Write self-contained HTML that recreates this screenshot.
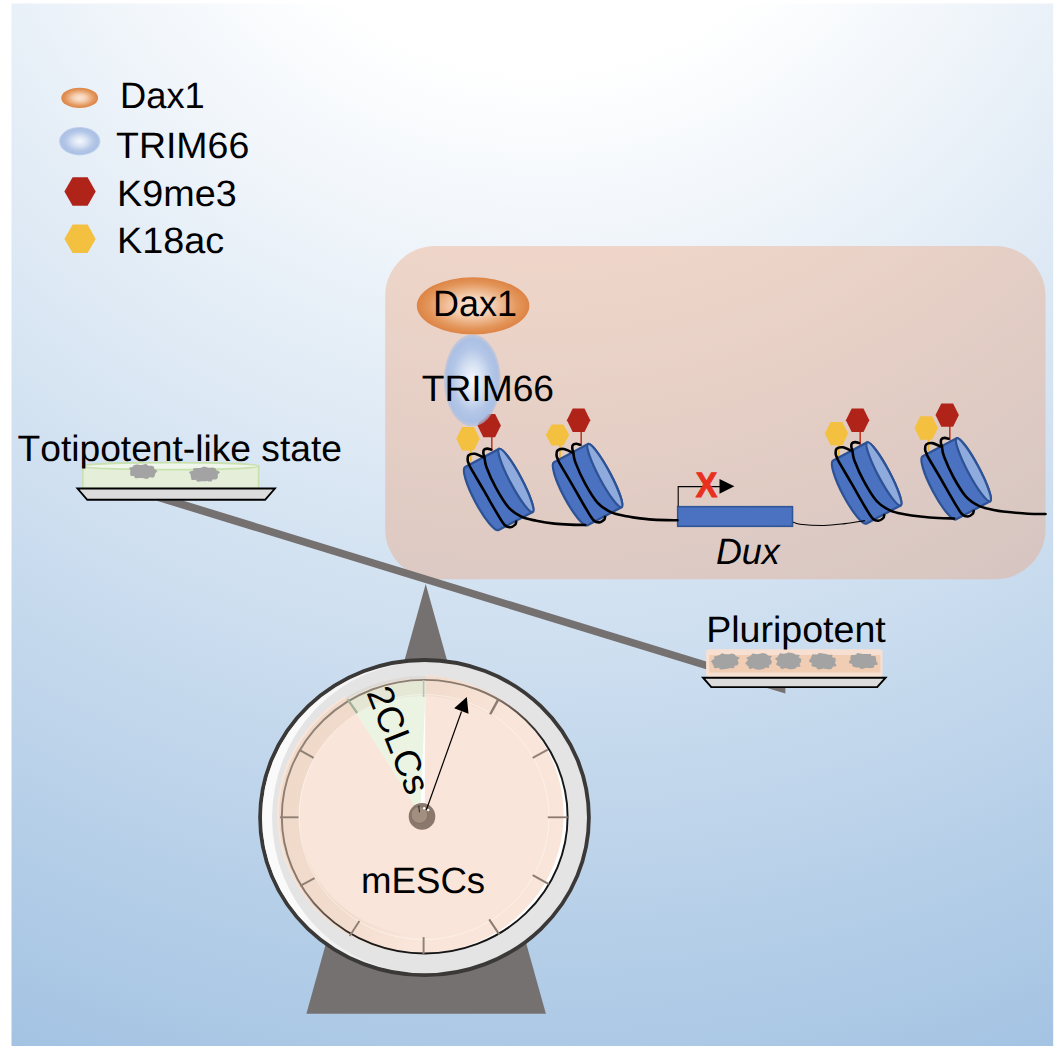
<!DOCTYPE html>
<html><head><meta charset="utf-8"><title>Graphical abstract</title>
<style>
html,body{margin:0;padding:0;background:#fff;overflow:hidden}
svg{display:block}
text{font-family:"Liberation Sans",sans-serif;fill:#000;font-kerning:none;text-rendering:geometricPrecision}
</style></head>
<body>
<svg width="1054" height="1046" viewBox="0 0 1054 1046">
<defs>
<radialGradient id="bg" gradientUnits="userSpaceOnUse" cx="540" cy="-250" r="1400">
<stop offset="0" stop-color="#ffffff"/>
<stop offset="0.229" stop-color="#ffffff"/>
<stop offset="0.986" stop-color="#a5c4e3"/>
<stop offset="1" stop-color="#a4c3e3"/>
</radialGradient>
<linearGradient id="box" gradientUnits="userSpaceOnUse" x1="385" y1="246" x2="1045" y2="579">
<stop offset="0" stop-color="#f0d7ca"/>
<stop offset="0.5" stop-color="#e2cdc6"/>
<stop offset="1" stop-color="#d7c2c2"/>
</linearGradient>
<radialGradient id="dax" cx="0.5" cy="0.5" r="0.5">
<stop offset="0" stop-color="#fbe6d6"/>
<stop offset="0.35" stop-color="#f5cfb2"/>
<stop offset="0.8" stop-color="#e39559"/>
<stop offset="1" stop-color="#dd8445"/>
</radialGradient>
<radialGradient id="trim" cx="0.5" cy="0.5" r="0.5">
<stop offset="0" stop-color="#f7f9fd"/>
<stop offset="0.3" stop-color="#dde6f5"/>
<stop offset="0.7" stop-color="#b3c6e7"/>
<stop offset="0.9" stop-color="#abc0e4"/>
<stop offset="1" stop-color="#abc0e4" stop-opacity="0.55"/>
</radialGradient>
<linearGradient id="rimline" gradientUnits="userSpaceOnUse" x1="300" y1="700" x2="550" y2="940">
<stop offset="0" stop-color="#94857a"/>
<stop offset="0.4" stop-color="#857469"/>
<stop offset="0.6" stop-color="#1a1a1a"/>
<stop offset="1" stop-color="#111"/>
</linearGradient>
<linearGradient id="bevel" gradientUnits="userSpaceOnUse" x1="295" y1="763" x2="553" y2="871">
<stop offset="0" stop-color="#b38b61" stop-opacity="0.13"/>
<stop offset="0.38" stop-color="#b38b61" stop-opacity="0.10"/>
<stop offset="0.62" stop-color="#b38b61" stop-opacity="0"/>
</linearGradient>
<linearGradient id="hl" gradientUnits="userSpaceOnUse" x1="424" y1="662" x2="424" y2="973">
<stop offset="0" stop-color="#fbfafa" stop-opacity="0.6"/>
<stop offset="0.15" stop-color="#fbfafa" stop-opacity="1"/>
<stop offset="0.8" stop-color="#fbfafa" stop-opacity="1"/>
<stop offset="1" stop-color="#fbfafa" stop-opacity="0.3"/>
</linearGradient>
</defs>

<rect x="11.5" y="3.5" width="1041.7" height="1043" fill="url(#bg)"/>
<ellipse cx="79.7" cy="97.9" rx="18.4" ry="10.2" fill="url(#dax)"/>
<ellipse cx="79.7" cy="141.2" rx="20.7" ry="14.2" fill="url(#trim)"/>
<polygon points="64.4,191.5 72.6,177.2 87.6,177.2 95.7,191.5 87.6,205.7 72.6,205.7" fill="#b02318"/>
<polygon points="64.4,238.9 72.6,224.6 87.6,224.6 95.7,238.9 87.6,253.1 72.6,253.1" fill="#f4c040"/>
<text id="t_dax_l" transform="translate(120.03,108.00) scale(0.9896,1)" font-size="36.7">Dax1</text>
<text id="t_trim_l" transform="translate(116.00,158.20) scale(1.0212,1)" font-size="36.7">TRIM66</text>
<text id="t_k9" transform="translate(117.12,206.00) scale(1.0283,1)" font-size="36.7">K9me3</text>
<text id="t_k18" transform="translate(117.11,253.20) scale(1.0290,1)" font-size="36.7">K18ac</text>
<rect x="385.2" y="246" width="660.3" height="333.2" rx="50" ry="50" fill="#ed9d72" fill-opacity="0.36"/>
<polygon points="425.7,583.9 306.4,1013.8 545.9,1013.8" fill="#767171"/>
<polygon points="155.9,500.5 182.7,500.5 785.4,685.8 785.4,693.6" fill="#767171"/>
<path d="M82.9,488.5 L82.9,466.2 A87.85,3.5 0 0 1 258.6,466.2 L258.6,488.5 Z" fill="#e4eed8" stroke="#c8e1ad" stroke-width="1.6"/>
<ellipse cx="170.75" cy="466.2" rx="87.85" ry="3.5" fill="#f1f6ec" stroke="#c8e1ad" stroke-width="1.7"/>
<path d="M157.3,471.5 C157.0,471.8 155.7,472.8 155.4,473.3 C155.0,473.8 155.2,474.2 155.0,474.7 C154.9,475.1 154.8,475.5 154.6,475.9 C154.5,476.3 154.3,476.8 153.9,477.1 C153.5,477.4 152.9,477.7 152.1,477.7 C151.4,477.7 150.0,477.2 149.3,477.3 C148.7,477.5 148.8,478.3 148.3,478.5 C147.7,478.8 147.0,479.1 146.1,479.0 C145.2,478.9 143.9,478.3 142.9,478.1 C141.9,478.0 140.9,478.1 140.1,478.1 C139.3,478.0 138.8,477.9 138.0,477.9 C137.3,477.9 136.2,478.3 135.5,478.2 C134.9,478.1 134.6,477.6 134.4,477.2 C134.2,476.8 134.6,476.2 134.1,476.0 C133.6,475.7 131.9,476.1 131.3,475.9 C130.6,475.7 130.4,475.2 130.2,474.8 C130.1,474.4 130.3,473.9 130.3,473.3 C130.3,472.8 130.3,472.1 130.3,471.5 C130.3,470.9 130.4,470.2 130.2,469.7 C130.0,469.1 128.9,468.3 129.1,467.9 C129.3,467.5 130.7,467.4 131.4,467.2 C132.1,466.9 132.9,466.9 133.3,466.6 C133.6,466.3 133.1,465.5 133.5,465.2 C133.9,464.9 134.8,464.9 135.5,464.8 C136.2,464.7 136.9,464.6 137.6,464.6 C138.4,464.6 139.2,465.0 140.1,465.0 C141.0,465.0 141.9,464.9 142.9,464.7 C143.9,464.5 145.3,463.8 146.1,463.9 C146.9,464.0 147.1,464.9 147.7,465.2 C148.2,465.6 148.6,465.7 149.3,465.7 C149.9,465.8 150.9,465.6 151.6,465.7 C152.2,465.8 152.6,466.1 153.1,466.3 C153.6,466.6 154.2,466.8 154.3,467.2 C154.5,467.6 153.7,468.2 153.9,468.6 C154.2,469.0 155.2,469.2 155.7,469.6 C156.3,470.1 157.0,471.2 157.3,471.5 Z" fill="#a3a3a3"/>
<path d="M217.9,474.3 C217.8,474.6 217.8,475.6 217.8,476.2 C217.8,476.7 217.9,477.2 217.8,477.6 C217.6,478.1 217.4,478.5 217.0,478.8 C216.6,479.2 216.1,479.5 215.4,479.6 C214.6,479.7 213.1,479.3 212.6,479.5 C212.0,479.7 212.4,480.5 212.0,480.9 C211.6,481.2 211.0,481.6 210.2,481.6 C209.5,481.6 208.3,481.0 207.4,480.9 C206.4,480.8 205.4,481.1 204.4,481.2 C203.4,481.3 202.2,481.2 201.2,481.3 C200.3,481.4 199.2,481.8 198.4,481.8 C197.7,481.7 197.1,481.3 196.6,481.0 C196.2,480.7 196.5,480.0 195.8,479.8 C195.1,479.6 193.3,480.2 192.5,480.0 C191.8,479.9 191.4,479.5 191.2,479.0 C190.9,478.6 191.3,478.0 191.2,477.6 C191.1,477.1 190.8,476.7 190.7,476.2 C190.6,475.7 190.7,475.0 190.5,474.3 C190.2,473.6 189.1,472.7 189.2,472.2 C189.4,471.7 190.8,471.4 191.5,471.1 C192.2,470.8 193.1,470.7 193.4,470.4 C193.7,470.0 192.8,469.2 193.0,468.8 C193.3,468.5 194.3,468.4 194.9,468.3 C195.6,468.1 196.3,468.0 197.0,468.0 C197.8,467.9 198.6,468.1 199.3,468.0 C200.0,467.9 200.5,467.7 201.3,467.4 C202.2,467.2 203.4,466.4 204.4,466.4 C205.4,466.4 206.6,467.3 207.4,467.5 C208.3,467.8 208.8,467.8 209.6,467.8 C210.4,467.8 211.7,467.3 212.4,467.4 C213.2,467.4 213.7,467.7 214.3,468.0 C214.9,468.2 215.6,468.4 215.9,468.8 C216.2,469.1 215.6,469.8 216.0,470.1 C216.4,470.5 217.4,470.6 218.1,470.9 C218.7,471.3 219.9,471.6 219.9,472.2 C219.8,472.7 218.2,473.9 217.9,474.3 Z" fill="#a3a3a3"/>
<polygon points="77.5,488.5 274.9,488.5 265.1,499.8 87.3,499.8" fill="#dcdcdc" stroke="#000" stroke-width="1.9" stroke-linejoin="miter"/>
<text id="t_toti" transform="translate(17.50,461.00) scale(1.0133,1)" font-size="36.7">Totipotent-like state</text>
<rect x="706.1" y="649.3" width="176.4" height="28.2" rx="3" fill="#f7e0d1"/>
<rect x="709.2" y="655" width="171.2" height="17.6" fill="#f1cdb3"/>
<path d="M738.1,661.4 C738.2,661.7 738.6,662.8 738.6,663.3 C738.5,663.8 738.2,664.3 737.9,664.6 C737.6,665.0 737.3,665.4 736.7,665.6 C736.1,665.8 734.8,665.6 734.4,665.9 C734.0,666.2 734.6,667.0 734.4,667.4 C734.2,667.8 733.8,668.3 733.2,668.3 C732.5,668.4 731.2,667.8 730.4,667.9 C729.6,667.9 729.3,668.3 728.5,668.5 C727.7,668.7 726.6,668.8 725.5,669.0 C724.4,669.1 723.0,669.5 722.1,669.5 C721.1,669.4 720.4,669.2 719.8,668.9 C719.2,668.6 719.2,667.9 718.5,667.8 C717.7,667.7 716.1,668.3 715.3,668.3 C714.5,668.2 714.1,667.8 713.8,667.3 C713.5,666.9 713.9,666.3 713.8,665.8 C713.6,665.4 713.2,665.1 712.9,664.7 C712.7,664.3 712.7,663.8 712.5,663.3 C712.2,662.8 711.1,662.0 711.2,661.4 C711.4,660.8 712.5,660.1 713.1,659.6 C713.7,659.1 714.6,659.0 714.7,658.6 C714.8,658.1 713.6,657.3 713.7,657.0 C713.8,656.6 714.7,656.4 715.3,656.2 C715.8,656.0 716.5,655.9 717.1,655.7 C717.7,655.6 718.3,655.5 718.8,655.3 C719.3,655.1 719.7,654.9 720.3,654.6 C720.8,654.2 721.2,653.4 722.1,653.3 C722.9,653.3 724.4,654.1 725.5,654.2 C726.6,654.4 727.5,654.4 728.5,654.3 C729.5,654.2 730.7,653.6 731.5,653.5 C732.3,653.5 732.9,653.9 733.5,654.1 C734.1,654.4 734.8,654.5 735.2,654.9 C735.6,655.2 735.4,655.8 735.8,656.1 C736.3,656.5 737.2,656.5 737.8,656.7 C738.5,657.0 739.7,657.2 739.7,657.7 C739.7,658.2 738.1,659.0 737.9,659.6 C737.6,660.2 738.0,661.1 738.1,661.4 Z" fill="#a3a3a3"/>
<path d="M771.9,661.4 C771.8,661.7 771.6,662.7 771.4,663.2 C771.2,663.7 771.0,664.1 770.6,664.4 C770.2,664.8 769.0,664.7 768.8,665.1 C768.6,665.5 769.4,666.2 769.3,666.7 C769.3,667.2 769.1,667.7 768.5,667.9 C767.9,668.0 766.4,667.5 765.7,667.6 C765.0,667.7 764.9,668.3 764.3,668.5 C763.7,668.8 763.2,669.0 762.3,669.2 C761.3,669.5 760.0,669.7 758.9,669.7 C757.8,669.7 756.4,669.5 755.5,669.3 C754.6,669.1 754.4,668.4 753.6,668.3 C752.8,668.3 751.3,669.0 750.5,669.0 C749.7,669.0 749.1,668.6 748.8,668.2 C748.5,667.8 748.9,667.0 748.7,666.6 C748.4,666.2 747.8,666.1 747.4,665.7 C747.1,665.4 747.0,665.0 746.7,664.6 C746.3,664.2 745.4,663.9 745.4,663.4 C745.4,662.8 746.4,662.0 746.8,661.4 C747.2,660.8 748.0,660.4 748.0,659.8 C747.9,659.3 746.4,658.6 746.4,658.1 C746.3,657.7 747.1,657.4 747.6,657.1 C748.1,656.9 748.7,656.7 749.2,656.5 C749.7,656.2 750.0,656.0 750.4,655.7 C750.8,655.4 751.1,655.1 751.5,654.7 C751.9,654.3 752.1,653.5 752.8,653.4 C753.5,653.3 754.8,654.0 755.8,654.1 C756.8,654.2 757.8,654.2 758.9,654.0 C760.0,653.8 761.5,653.0 762.5,653.0 C763.5,652.9 764.1,653.4 764.9,653.6 C765.6,653.8 766.3,654.0 766.8,654.3 C767.2,654.6 767.3,655.1 767.9,655.4 C768.4,655.6 769.2,655.6 769.9,655.8 C770.5,656.0 771.7,656.1 771.8,656.6 C771.8,657.0 770.4,657.9 770.3,658.4 C770.1,659.0 770.6,659.2 770.8,659.7 C771.1,660.2 771.7,661.1 771.9,661.4 Z" fill="#a3a3a3"/>
<path d="M801.0,661.0 C801.0,661.3 800.9,662.3 800.7,662.8 C800.4,663.3 799.5,663.4 799.5,663.9 C799.4,664.3 800.3,665.0 800.4,665.5 C800.5,666.0 800.5,666.6 799.9,666.8 C799.4,667.0 797.8,666.6 797.1,666.8 C796.5,667.0 796.6,667.6 796.1,667.9 C795.7,668.3 795.2,668.6 794.5,668.8 C793.8,669.1 793.0,669.2 792.0,669.3 C791.0,669.3 789.6,669.2 788.5,669.0 C787.4,668.8 786.5,668.2 785.4,668.2 C784.4,668.2 783.3,668.9 782.4,669.0 C781.6,669.0 780.9,668.6 780.5,668.3 C780.1,667.9 780.4,667.0 780.1,666.7 C779.7,666.3 778.9,666.4 778.4,666.1 C778.0,665.9 777.7,665.5 777.3,665.2 C776.9,664.9 776.1,664.7 776.0,664.3 C775.9,663.8 776.5,663.3 776.8,662.7 C777.0,662.2 777.7,661.6 777.4,661.0 C777.2,660.4 775.4,659.6 775.2,659.1 C775.0,658.5 775.8,658.1 776.2,657.8 C776.6,657.4 777.2,657.2 777.6,656.9 C777.9,656.5 778.0,656.2 778.2,655.8 C778.5,655.4 778.8,655.1 779.1,654.7 C779.4,654.3 779.4,653.5 780.0,653.3 C780.7,653.2 782.1,653.7 783.0,653.8 C783.9,653.8 784.4,653.8 785.3,653.6 C786.2,653.3 787.4,652.5 788.5,652.4 C789.6,652.3 791.0,652.8 791.9,653.0 C792.8,653.2 793.5,653.4 794.1,653.7 C794.7,653.9 795.1,654.3 795.7,654.5 C796.3,654.7 797.0,654.7 797.7,654.8 C798.4,654.9 799.6,654.9 799.7,655.3 C799.9,655.7 798.7,656.7 798.7,657.2 C798.7,657.6 799.2,657.8 799.7,658.1 C800.1,658.4 801.1,658.6 801.3,659.1 C801.5,659.6 801.1,660.7 801.0,661.0 Z" fill="#a3a3a3"/>
<path d="M835.6,661.4 C835.5,661.7 834.9,662.6 835.0,663.1 C835.1,663.7 836.0,664.3 836.2,664.8 C836.4,665.4 836.5,666.0 836.0,666.3 C835.5,666.6 833.7,666.3 833.1,666.5 C832.6,666.8 832.8,667.4 832.5,667.8 C832.2,668.2 831.8,668.6 831.2,668.9 C830.6,669.1 829.8,669.2 829.0,669.2 C828.1,669.3 827.3,669.2 826.3,669.1 C825.3,669.0 824.1,668.4 823.0,668.5 C821.9,668.5 820.5,669.3 819.6,669.4 C818.6,669.5 817.8,669.2 817.3,668.9 C816.8,668.5 816.9,667.6 816.4,667.4 C816.0,667.1 815.0,667.3 814.5,667.1 C813.9,667.0 813.4,666.7 812.9,666.5 C812.4,666.3 811.6,666.1 811.4,665.8 C811.2,665.4 811.6,664.8 811.6,664.4 C811.7,663.9 812.2,663.5 811.7,663.0 C811.3,662.5 809.4,662.0 809.1,661.4 C808.8,660.8 809.4,660.0 809.7,659.5 C810.0,658.9 810.8,658.7 811.0,658.3 C811.3,657.9 811.0,657.4 811.2,656.9 C811.3,656.5 811.6,656.2 811.8,655.7 C812.1,655.3 812.0,654.6 812.6,654.4 C813.2,654.2 814.7,654.6 815.5,654.6 C816.4,654.6 817.0,654.6 817.6,654.3 C818.2,654.0 818.5,653.1 819.4,653.0 C820.3,652.9 821.9,653.4 823.0,653.6 C824.1,653.8 825.2,654.0 826.1,654.1 C827.0,654.3 827.4,654.6 828.1,654.7 C828.8,654.8 829.6,654.7 830.3,654.8 C831.0,654.8 832.2,654.7 832.5,655.0 C832.7,655.4 831.9,656.4 832.0,656.8 C832.2,657.2 832.8,657.3 833.4,657.5 C834.0,657.7 835.2,657.8 835.6,658.1 C836.0,658.5 835.5,659.0 835.5,659.6 C835.6,660.1 835.6,661.1 835.6,661.4 Z" fill="#a3a3a3"/>
<path d="M876.1,661.0 C876.3,661.3 877.2,662.4 877.4,663.1 C877.6,663.7 877.8,664.3 877.4,664.7 C876.9,665.0 875.0,664.9 874.5,665.2 C873.9,665.5 874.4,666.1 874.2,666.5 C874.0,666.9 873.8,667.4 873.3,667.7 C872.7,668.0 871.8,668.0 871.1,668.0 C870.3,668.1 869.5,668.2 868.7,668.1 C867.9,668.1 867.1,667.6 866.2,667.8 C865.3,667.9 864.3,668.7 863.3,668.8 C862.3,669.0 860.9,668.8 860.1,668.5 C859.3,668.2 859.2,667.4 858.6,667.2 C858.0,667.0 857.0,667.4 856.3,667.4 C855.6,667.3 855.0,667.2 854.4,667.0 C853.8,666.8 853.1,666.7 852.7,666.4 C852.4,666.1 852.4,665.5 852.3,665.1 C852.2,664.7 852.5,664.3 851.9,664.0 C851.4,663.6 849.4,663.6 849.0,663.1 C848.6,662.6 849.2,661.7 849.4,661.0 C849.7,660.3 850.5,659.7 850.6,659.2 C850.8,658.6 850.3,658.1 850.3,657.6 C850.4,657.1 850.7,656.7 850.9,656.3 C851.1,655.9 850.9,655.2 851.5,655.0 C852.1,654.8 853.6,655.1 854.3,655.0 C855.1,654.9 855.7,654.9 856.2,654.6 C856.7,654.2 856.6,653.3 857.3,653.1 C857.9,652.9 859.1,653.4 860.1,653.6 C861.1,653.7 862.3,653.9 863.3,654.0 C864.3,654.1 865.4,654.1 866.2,654.1 C867.1,654.1 867.8,654.1 868.6,654.0 C869.4,654.0 870.5,653.8 870.9,654.1 C871.4,654.3 870.9,655.3 871.2,655.7 C871.5,656.0 872.2,656.0 873.0,656.1 C873.7,656.2 875.1,656.1 875.6,656.4 C876.0,656.7 875.6,657.3 875.7,657.8 C875.8,658.2 876.1,658.6 876.2,659.1 C876.2,659.7 876.1,660.7 876.1,661.0 Z" fill="#a3a3a3"/>
<polygon points="703,677.7 885.6,677.7 877.2,687.1 711.3,687.1" fill="#dcdcdc" stroke="#000" stroke-width="1.9"/>
<text id="t_pluri" transform="translate(706.13,642.20) scale(1.0244,1)" font-size="36.7">Pluripotent</text>
<ellipse cx="424.5" cy="817.6" rx="164.4" ry="157.6" fill="#e4e4e4" stroke="#3b3838" stroke-width="3.8"/>
<path d="M424.5,662.2 A162.4,155.4 0 0 0 424.5,973 A152.4,155.4 0 0 1 424.5,662.2 Z" fill="url(#hl)"/>
<ellipse cx="424.7" cy="816.7" rx="142.9" ry="136.8" fill="#ffffff"/>
<path d="M422,816.4 L425.9,675.6 A143.2,139 0 1 1 345.5,696.0 Z" fill="#f9e5d9"/>
<path d="M422,816.4 L347.2,698.7 A143,137 0 0 1 425.9,680 Z" fill="#ebf3e3"/>
<polygon points="425.3,695 420.6,804 424.9,804" fill="#ffffff" opacity="0.9"/>
<ellipse cx="422.5" cy="815.5" rx="133.5" ry="129.5" fill="none" stroke="url(#bevel)" stroke-width="20"/>
<ellipse cx="424" cy="817" rx="125" ry="122.5" fill="none" stroke="#ffffff" stroke-opacity="0.45" stroke-width="1"/>
<ellipse cx="424.7" cy="816.7" rx="142.9" ry="136.8" fill="none" stroke="url(#rimline)" stroke-width="1.9"/>
<line x1="423.6" y1="680.1" x2="423.6" y2="696.9" stroke="#b9c2b0" stroke-width="1.6"/>
<line x1="498.2" y1="699.6" x2="490.2" y2="714.3" stroke="#8c7b70" stroke-width="2.4"/>
<line x1="547.8" y1="749.7" x2="532.7" y2="757.8" stroke="#8f7f74" stroke-width="1.9"/>
<line x1="547.8" y1="817.3" x2="567.8" y2="817.3" stroke="#8c7b70" stroke-width="1.8"/>
<line x1="548.8" y1="884.2" x2="532.7" y2="875.2" stroke="#8c7b70" stroke-width="2.0"/>
<line x1="499.2" y1="934.4" x2="489.2" y2="919.4" stroke="#8c7b70" stroke-width="2.0"/>
<line x1="423.6" y1="937.1" x2="423.6" y2="954.5" stroke="#8f7f74" stroke-width="1.9"/>
<line x1="349.7" y1="936.1" x2="359.4" y2="921.0" stroke="#8f7f74" stroke-width="1.9"/>
<line x1="300.2" y1="885.9" x2="314.6" y2="878.2" stroke="#8f7f74" stroke-width="1.9"/>
<line x1="280.1" y1="817.3" x2="298.5" y2="817.3" stroke="#8f7f74" stroke-width="1.9"/>
<line x1="300.2" y1="750.4" x2="313.6" y2="757.8" stroke="#8f7f74" stroke-width="1.9"/>
<line x1="347.4" y1="699.2" x2="357.2" y2="713.0" stroke="#a0b09b" stroke-width="2.3"/>
<circle cx="422" cy="816.4" r="13.3" fill="#8b786c"/>
<circle cx="419.4" cy="815" r="8.4" fill="#a28f80" stroke="#7d6c61" stroke-width="0.8"/>
<line x1="426.4" y1="809.7" x2="461.5" y2="711.5" stroke="#000" stroke-width="1.2"/>
<polygon points="466.8,697 454.2,708.2 468.5,713.7" fill="#000"/>
<line x1="418.7" y1="805.6" x2="419.5" y2="812.2" stroke="#2a2a2a" stroke-width="1.1"/>
<circle cx="424.2" cy="808.2" r="1.2" fill="#fff"/><circle cx="428.2" cy="810" r="1.2" fill="#fff"/>
<text id="t_mesc" transform="translate(361.10,892.90) scale(0.9976,1)" font-size="36.7">mESCs</text>
<text id="t_2c" transform="translate(366.2,692.6) rotate(68.3)" x="0" y="0" font-size="36.7">2CLCs</text>
<line x1="470.8" y1="447.8" x2="470.8" y2="461.4" stroke="#eeb730" stroke-width="1.7"/>
<line x1="491.8" y1="436.6" x2="491.8" y2="450.9" stroke="#c0392b" stroke-width="1.6"/>
<polygon points="456.3,438.8 462.1,427.1 473.9,427.1 479.7,438.8 473.9,450.5 462.1,450.5" fill="#f4c040"/>
<polygon points="477.5,425.6 483.3,413.9 495.1,413.9 500.9,425.6 495.1,437.3 483.3,437.3" fill="#b02318"/>
<line x1="560.0" y1="443.9" x2="560.0" y2="458.8" stroke="#eeb730" stroke-width="1.7"/>
<line x1="581.2" y1="431.3" x2="581.2" y2="445.9" stroke="#c0392b" stroke-width="1.6"/>
<polygon points="545.8,434.9 551.6,424.4 563.4,424.4 569.2,434.9 563.4,445.4 551.6,445.4" fill="#f4c040"/>
<polygon points="566.9,420.3 572.7,408.6 584.5,408.6 590.3,420.3 584.5,432.0 572.7,432.0" fill="#b02318"/>
<line x1="838.8" y1="442.6" x2="838.8" y2="455.9" stroke="#eeb730" stroke-width="1.7"/>
<line x1="860.2" y1="431.2" x2="860.2" y2="445.2" stroke="#c0392b" stroke-width="1.6"/>
<polygon points="824.8,433.6 830.6,421.9 842.4,421.9 848.2,433.6 842.4,445.3 830.6,445.3" fill="#f4c040"/>
<polygon points="845.9,420.2 851.7,408.5 863.5,408.5 869.3,420.2 863.5,431.9 851.7,431.9" fill="#b02318"/>
<line x1="928.6" y1="437.0" x2="928.6" y2="451.0" stroke="#eeb730" stroke-width="1.7"/>
<line x1="949.8" y1="426.1" x2="949.8" y2="440.6" stroke="#c0392b" stroke-width="1.6"/>
<polygon points="914.5,428.0 920.3,416.3 932.1,416.3 937.9,428.0 932.1,439.7 920.3,439.7" fill="#f4c040"/>
<polygon points="935.5,415.1 941.3,403.4 953.1,403.4 958.9,415.1 953.1,426.8 941.3,426.8" fill="#b02318"/>
<g transform="translate(515.9,480.4) rotate(62)">
<path d="M-35.7,0 L-35.7,38.5 A35.7,7.4 0 0 0 35.7,38.5 L35.7,0 A35.7,5.8 0 0 0 -35.7,0 Z" fill="#4b72c1" stroke="#2e5395" stroke-width="2.3" stroke-linejoin="round"/>
<ellipse cx="0" cy="0" rx="35.7" ry="5.8" fill="#8faadc" stroke="#2e5395" stroke-width="2.3"/>
</g>
<g transform="translate(604.8,475.6) rotate(62)">
<path d="M-35.7,0 L-35.7,38.5 A35.7,7.4 0 0 0 35.7,38.5 L35.7,0 A35.7,5.8 0 0 0 -35.7,0 Z" fill="#4b72c1" stroke="#2e5395" stroke-width="2.3" stroke-linejoin="round"/>
<ellipse cx="0" cy="0" rx="35.7" ry="5.8" fill="#8faadc" stroke="#2e5395" stroke-width="2.3"/>
</g>
<g transform="translate(883.9,473.9) rotate(62)">
<path d="M-35.7,0 L-35.7,38.5 A35.7,7.4 0 0 0 35.7,38.5 L35.7,0 A35.7,5.8 0 0 0 -35.7,0 Z" fill="#4b72c1" stroke="#2e5395" stroke-width="2.3" stroke-linejoin="round"/>
<ellipse cx="0" cy="0" rx="35.7" ry="5.8" fill="#8faadc" stroke="#2e5395" stroke-width="2.3"/>
</g>
<g transform="translate(973.4,469.7) rotate(62)">
<path d="M-35.7,0 L-35.7,38.5 A35.7,7.4 0 0 0 35.7,38.5 L35.7,0 A35.7,5.8 0 0 0 -35.7,0 Z" fill="#4b72c1" stroke="#2e5395" stroke-width="2.3" stroke-linejoin="round"/>
<ellipse cx="0" cy="0" rx="35.7" ry="5.8" fill="#8faadc" stroke="#2e5395" stroke-width="2.3"/>
</g>
<rect x="677.7" y="506.7" width="114.8" height="19.6" fill="#4b72c1" stroke="#2f5597" stroke-width="1.6"/>
<path d="M678.2,506.3 L678.2,486.6 L720,486.6" fill="none" stroke="#000" stroke-width="1.1"/>
<polygon points="719.5,479 734.4,486.3 719.5,493.7" fill="#000"/>
<text id="t_x" transform="translate(695.70,496.90) scale(0.9125,1)" font-size="35.4" font-weight="bold" style="fill:#e8301f;stroke:#e8301f;stroke-width:1px">X</text>
<text id="t_dux" transform="translate(715.92,563.80) scale(0.9788,1)" font-size="36.7" font-style="italic">Dux</text>
<path d="M483.0,457.1 C481.6,456.6 477.3,454.1 474.9,453.8 C472.5,453.5 469.8,454.2 468.6,455.3 C467.4,456.4 467.6,459.0 467.7,460.5 C467.8,462.0 468.6,463.0 469.1,464.3 C469.6,465.6 468.4,463.9 470.8,468.2 C473.2,472.5 479.2,482.4 483.7,490.2 C488.2,498.0 494.5,509.2 498.0,515.0 C501.5,520.8 502.6,523.0 504.7,525.0 C506.8,527.0 508.6,527.3 510.4,527.2 C512.1,527.1 514.2,525.5 515.2,524.6 C516.2,523.7 516.0,522.2 516.2,521.7" fill="none" stroke="#000" stroke-width="2.6" stroke-linecap="round" stroke-linejoin="round"/>
<path d="M491.1,449.5 C490.5,449.4 488.5,448.5 487.3,448.6 C486.1,448.7 484.5,449.1 483.9,449.9 C483.2,450.7 483.3,452.3 483.4,453.5 C483.5,454.7 483.9,454.8 484.4,457.1 C484.9,459.4 484.6,462.0 486.5,467.2 C488.4,472.4 492.4,481.5 496.1,488.2 C499.8,494.9 504.2,502.6 508.5,507.4 C512.8,512.2 517.3,514.7 521.9,516.9 C526.5,519.1 530.9,519.6 536.3,520.7 C541.7,521.8 548.8,523.0 554.4,523.6 C560.0,524.2 564.9,524.4 570.0,524.6 C575.1,524.8 582.7,524.9 585.2,525.0" fill="none" stroke="#000" stroke-width="2.6" stroke-linecap="round" stroke-linejoin="round"/>
<path d="M571.9,452.3 C570.5,451.8 566.2,449.3 563.8,449.0 C561.4,448.7 558.7,449.4 557.5,450.5 C556.3,451.6 556.5,454.2 556.6,455.7 C556.7,457.2 557.5,458.2 558.0,459.5 C558.5,460.8 557.3,459.1 559.7,463.4 C562.1,467.7 568.1,477.6 572.6,485.4 C577.1,493.2 583.4,504.4 586.9,510.2 C590.4,516.0 591.5,518.2 593.6,520.2 C595.7,522.2 597.5,522.5 599.3,522.4 C601.0,522.3 603.1,520.7 604.1,519.8 C605.1,518.9 604.9,517.4 605.1,516.9" fill="none" stroke="#000" stroke-width="2.6" stroke-linecap="round" stroke-linejoin="round"/>
<path d="M580.0,444.7 C579.4,444.6 577.4,443.7 576.2,443.8 C575.0,443.9 573.4,444.3 572.8,445.1 C572.1,445.9 572.2,447.5 572.3,448.7 C572.4,449.9 572.8,450.0 573.3,452.3 C573.8,454.6 573.4,457.2 575.4,462.4 C577.4,467.6 581.3,476.7 585.0,483.4 C588.7,490.1 593.1,497.8 597.4,502.6 C601.7,507.4 606.2,509.9 610.8,512.1 C615.4,514.3 621.5,515.0 625.2,515.9 C628.9,516.8 628.4,516.8 633.0,517.4 C637.6,518.0 645.5,519.1 652.9,519.6 C660.3,520.1 673.4,520.2 677.5,520.3" fill="none" stroke="#000" stroke-width="2.6" stroke-linecap="round" stroke-linejoin="round"/>
<path d="M851.0,450.6 C849.6,450.1 845.3,447.6 842.9,447.3 C840.5,447.0 837.8,447.7 836.6,448.8 C835.4,449.9 835.6,452.5 835.7,454.0 C835.8,455.5 836.6,456.5 837.1,457.8 C837.6,459.1 836.4,457.4 838.8,461.7 C841.2,466.0 847.2,475.9 851.7,483.7 C856.2,491.5 862.5,502.7 866.0,508.5 C869.5,514.3 870.6,516.5 872.7,518.5 C874.8,520.5 876.6,520.8 878.4,520.7 C880.1,520.6 882.2,519.0 883.2,518.1 C884.2,517.2 884.0,515.7 884.2,515.2" fill="none" stroke="#000" stroke-width="2.6" stroke-linecap="round" stroke-linejoin="round"/>
<path d="M859.1,443.0 C858.5,442.9 856.5,442.0 855.3,442.1 C854.1,442.2 852.5,442.6 851.9,443.4 C851.2,444.2 851.3,445.8 851.4,447.0 C851.5,448.2 851.9,448.3 852.4,450.6 C852.9,452.9 852.5,455.5 854.5,460.7 C856.5,465.9 860.4,475.0 864.1,481.7 C867.8,488.4 872.2,496.1 876.5,500.9 C880.8,505.7 885.3,508.2 889.9,510.4 C894.5,512.6 899.2,513.2 904.3,514.2 C909.4,515.2 914.7,515.9 920.3,516.5 C925.9,517.1 932.4,517.7 938.0,518.0 C943.6,518.3 951.4,518.4 954.1,518.5" fill="none" stroke="#000" stroke-width="2.6" stroke-linecap="round" stroke-linejoin="round"/>
<path d="M940.5,446.4 C939.1,445.9 934.8,443.4 932.4,443.1 C930.0,442.8 927.3,443.5 926.1,444.6 C924.9,445.7 925.1,448.3 925.2,449.8 C925.3,451.3 926.1,452.3 926.6,453.6 C927.1,454.9 925.9,453.2 928.3,457.5 C930.7,461.8 936.7,471.7 941.2,479.5 C945.7,487.3 952.0,498.5 955.5,504.3 C959.0,510.1 960.1,512.3 962.2,514.3 C964.3,516.3 966.1,516.6 967.9,516.5 C969.6,516.4 971.7,514.8 972.7,513.9 C973.7,513.0 973.5,511.5 973.7,511.0" fill="none" stroke="#000" stroke-width="2.6" stroke-linecap="round" stroke-linejoin="round"/>
<path d="M948.6,438.8 C948.0,438.7 946.0,437.8 944.8,437.9 C943.6,438.0 942.0,438.4 941.4,439.2 C940.8,440.0 940.8,441.6 940.9,442.8 C941.0,444.0 941.4,444.1 941.9,446.4 C942.4,448.7 942.0,451.3 944.0,456.5 C946.0,461.7 949.9,470.8 953.6,477.5 C957.3,484.2 961.7,491.9 966.0,496.7 C970.3,501.5 974.8,504.0 979.4,506.2 C984.0,508.4 989.9,509.1 993.8,510.0 C997.7,510.9 997.2,510.9 1002.9,511.5 C1008.6,512.1 1020.9,513.3 1028.0,513.7 C1035.1,514.1 1042.6,514.0 1045.5,514.0" fill="none" stroke="#000" stroke-width="2.6" stroke-linecap="round" stroke-linejoin="round"/>
<path d="M793.1,521.9 C794.2,522.3 794.8,523.6 800.0,524.2 C805.2,524.8 816.6,525.6 824.1,525.5 C831.6,525.4 838.2,524.4 845.0,523.6 C851.8,522.8 861.6,521.1 864.9,520.6" fill="none" stroke="#000" stroke-width="1.1"/>
<ellipse cx="473.1" cy="305.8" rx="56.3" ry="28.6" fill="url(#dax)"/>
<ellipse cx="472.3" cy="380.4" rx="28.4" ry="46.1" fill="url(#trim)"/>
<text id="t_dax" transform="translate(433.06,316.20) scale(0.9798,1)" font-size="36.7">Dax1</text>
<text id="t_trim" transform="translate(421.80,400.50) scale(1.0135,1)" font-size="36.7">TRIM66</text>
</svg>
</body></html>
